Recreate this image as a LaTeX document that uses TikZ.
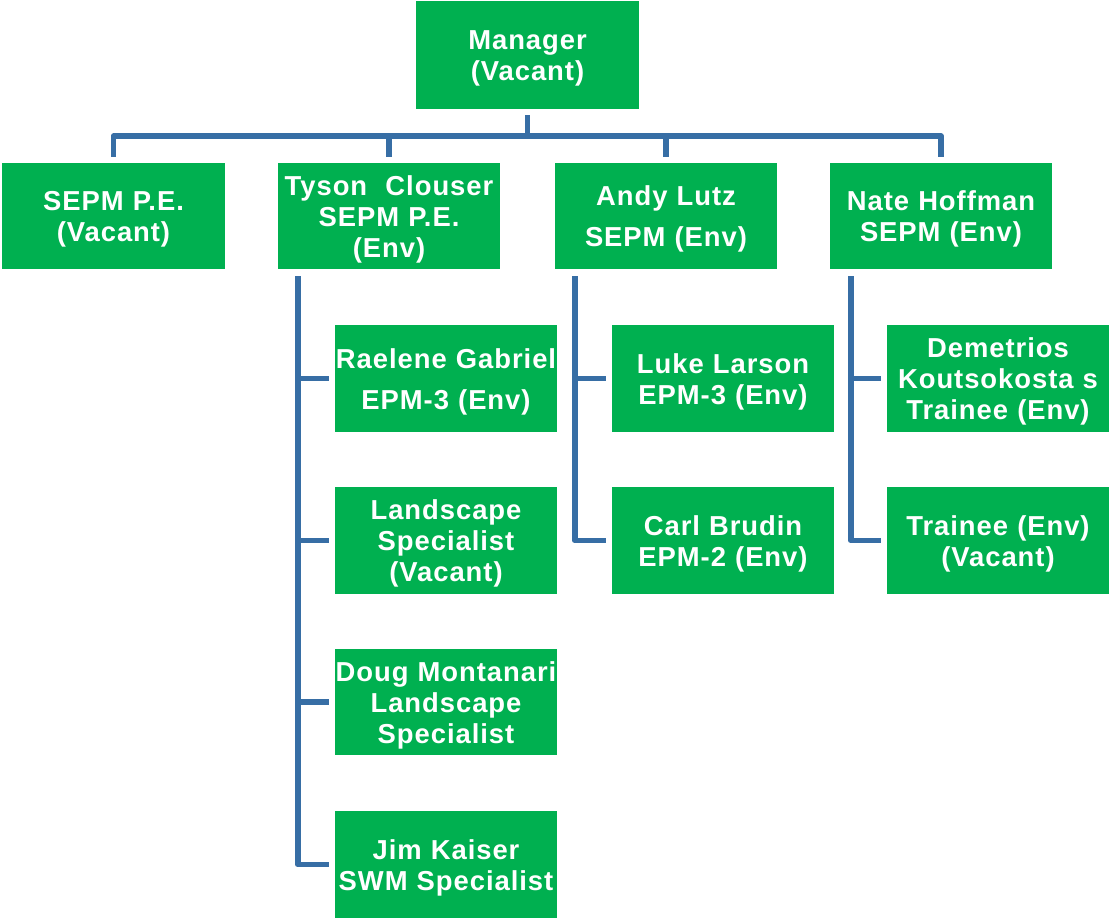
\documentclass[tikz,border=0pt]{standalone}
\usepackage{fontspec}
\setmainfont{Liberation Sans}[LetterSpace=3.5]
\usetikzlibrary{calc}
\definecolor{boxgreen}{RGB}{0,176,80}
\definecolor{linkblue}{RGB}{55,110,165}
\tikzset{
  orgbox/.style={rectangle, fill=boxgreen, inner sep=0pt,
    minimum width=222pt, minimum height=107pt},
  orgtext/.style={text=white, inner sep=0pt, text width=222pt, align=center,
    font=\fontsize{27.4}{31}\selectfont\bfseries},
  conn/.style={draw=linkblue, line width=5.5pt, line join=round}
}
\newcommand{\orgnode}[4][]{%
  \node[orgbox,#1] (#2) at (#3) {};
  \node[orgtext] (#2-t) at ($(#2.center)+(0,3)$) {#4};}
\begin{document}
\begin{tikzpicture}[x=1pt,y=-1pt]
\useasboundingbox (0,0) rectangle (1111,920);
\fill[white] (0,0) rectangle (1111,920);
% top
\orgnode[minimum width=223pt, minimum height=108pt]{mgr}{527.5,55}{Manager\\(Vacant)}
% second row
\orgnode[minimum width=223pt, minimum height=106pt]{sepm}{113.5,216}{SEPM P.E.\\(Vacant)}
\orgnode[minimum height=106pt]{tyson}{389,216}{Tyson\ \ Clouser\\SEPM P.E.\\(Env)}
\orgnode[minimum height=106pt]{andy}{666,216}{Andy Lutz\\[10pt]SEPM (Env)}
\orgnode[minimum height=106pt]{nate}{941,216}{Nate Hoffman\\SEPM (Env)}
% Tyson's reports
\orgnode{rae}{446,378.5}{Raelene Gabriel\\[10pt]EPM-3 (Env)}
\orgnode{land}{446,540.5}{Landscape\\Specialist\\(Vacant)}
\orgnode[minimum height=106pt]{doug}{446,702}{Doug Montanari\\Landscape\\Specialist}
\orgnode{jim}{446,864.5}{Jim Kaiser\\SWM Specialist}
% Andy's reports
\orgnode{luke}{723,378.5}{Luke Larson\\EPM-3 (Env)}
\orgnode{carl}{723,540.5}{Carl Brudin\\EPM-2 (Env)}
% Nate's reports
\orgnode{dem}{998,378.5}{Demetrios\\Koutsokosta s\\Trainee (Env)}
\orgnode{trn}{998,540.5}{Trainee (Env)\\(Vacant)}
% bus
\coordinate (bus) at (0,136);
\draw[conn] ($(mgr.south)+(0,6)$) -- (mgr.south |- bus);
\draw[conn] ($(sepm.north)+(0,-6)$) -- (sepm.north |- bus) -- (nate.north |- bus) -- ($(nate.north)+(0,-6)$);
\draw[conn] (tyson.north |- bus) -- ($(tyson.north)+(0,-6)$);
\draw[conn] (andy.north |- bus) -- ($(andy.north)+(0,-6)$);
% trunks
\coordinate (tt) at ($(tyson.south west)+(20,7)$);
\draw[conn] (tt) -- (tt |- jim.west) -- ($(jim.west)+(-6,0)$);
\draw[conn] (tt |- rae.west) -- ($(rae.west)+(-6,0)$);
\draw[conn] (tt |- land.west) -- ($(land.west)+(-6,0)$);
\draw[conn] (tt |- doug.west) -- ($(doug.west)+(-6,0)$);
\coordinate (at) at ($(andy.south west)+(20,7)$);
\draw[conn] (at) -- (at |- carl.west) -- ($(carl.west)+(-6,0)$);
\draw[conn] (at |- luke.west) -- ($(luke.west)+(-6,0)$);
\coordinate (nt) at ($(nate.south west)+(21,7)$);
\draw[conn] (nt) -- (nt |- trn.west) -- ($(trn.west)+(-6,0)$);
\draw[conn] (nt |- dem.west) -- ($(dem.west)+(-6,0)$);
\end{tikzpicture}
\end{document}
